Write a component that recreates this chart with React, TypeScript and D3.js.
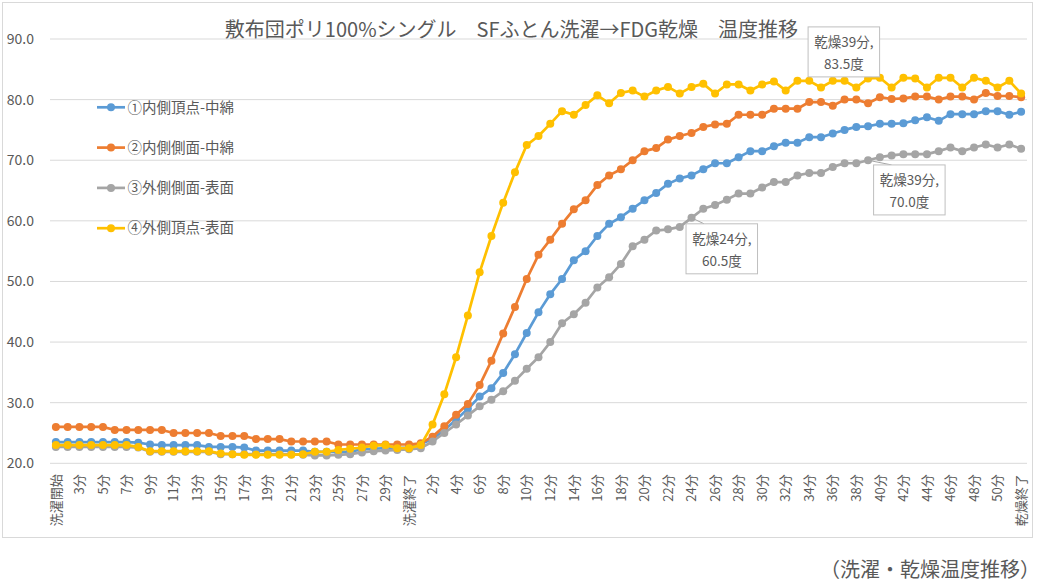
import React from "react";
import * as d3 from "d3";

// ---- categories ----
const washLabels = [
  "洗濯開始", "2分", "3分", "4分", "5分", "6分", "7分", "8分", "9分", "10分",
  "11分", "12分", "13分", "14分", "15分", "16分", "17分", "18分", "19分", "20分",
  "21分", "22分", "23分", "24分", "25分", "26分", "27分", "28分", "29分", "30分",
  "洗濯終了",
];
const dryLabels = [
  "1分", "2分", "3分", "4分", "5分", "6分", "7分", "8分", "9分", "10分",
  "11分", "12分", "13分", "14分", "15分", "16分", "17分", "18分", "19分", "20分",
  "21分", "22分", "23分", "24分", "25分", "26分", "27分", "28分", "29分", "30分",
  "31分", "32分", "33分", "34分", "35分", "36分", "37分", "38分", "39分", "40分",
  "41分", "42分", "43分", "44分", "45分", "46分", "47分", "48分", "49分", "50分",
  "51分", "乾燥終了",
];
const categories = [...washLabels, ...dryLabels];

// ---- series values ----
const innerTop = [
  23.5, 23.5, 23.5, 23.5, 23.5, 23.5, 23.5, 23.4, 23.1, 23.0,
  23.0, 23.0, 23.0, 22.7, 22.7, 22.7, 22.6, 22.1, 22.1, 22.1,
  22.1, 22.1, 21.9, 21.9, 21.9, 21.9, 22.3, 22.4, 22.5, 22.5,
  22.6,
  23.2, 24.0, 25.5, 27.2, 29.0, 31.0, 32.4, 34.9, 38.0, 41.5,
  44.9, 47.9, 50.4, 53.5, 55.0, 57.5, 59.5, 60.6, 62.0, 63.4,
  64.6, 66.1, 67.0, 67.5, 68.5, 69.5, 69.5, 70.5, 71.5, 71.5,
  72.3, 72.9, 72.9, 73.8, 73.8, 74.4, 75.0, 75.5, 75.6, 76.0,
  76.0, 76.1, 76.6, 77.1, 76.5, 77.6, 77.6, 77.6, 78.1, 78.1,
  77.5, 78.0,
];
const innerSide = [
  26.0, 26.0, 26.0, 26.0, 26.0, 25.5, 25.5, 25.5, 25.5, 25.5,
  25.0, 25.0, 25.0, 25.0, 24.5, 24.5, 24.5, 24.0, 24.0, 24.0,
  23.6, 23.6, 23.6, 23.6, 23.1, 23.1, 23.1, 23.1, 23.1, 23.1,
  23.1,
  23.3, 24.4, 26.1, 28.0, 29.8, 32.9, 36.9, 41.4, 45.8, 50.4,
  54.4, 56.9, 59.5, 61.9, 63.4, 65.9, 67.5, 68.5, 70.0, 71.5,
  72.0, 73.4, 74.0, 74.5, 75.5, 75.9, 76.0, 77.5, 77.5, 77.5,
  78.5, 78.5, 78.5, 79.6, 79.6, 79.0, 80.0, 80.0, 79.4, 80.4,
  80.1, 80.2, 80.5, 80.5, 80.0, 80.5, 80.5, 80.0, 81.1, 80.6,
  80.6, 80.4,
];
const outerSide = [
  22.7, 22.7, 22.7, 22.7, 22.7, 22.7, 22.7, 22.6, 21.9, 21.9,
  21.9, 21.9, 21.9, 21.9, 21.5, 21.5, 21.5, 21.5, 21.5, 21.5,
  21.5, 21.4, 21.3, 21.3, 21.4, 21.5, 21.8, 22.0, 22.1, 22.2,
  22.3,
  22.5, 23.6, 25.0, 26.4, 27.9, 29.4, 30.5, 31.9, 33.6, 35.6,
  37.5, 40.0, 43.1, 44.6, 46.5, 49.0, 50.7, 52.9, 55.8, 56.9,
  58.4, 58.6, 59.0, 60.5, 62.0, 62.6, 63.5, 64.5, 64.5, 65.5,
  66.4, 66.4, 67.5, 67.9, 67.9, 68.9, 69.5, 69.5, 70.0, 70.5,
  70.8, 71.0, 71.0, 71.0, 71.5, 72.1, 71.5, 72.1, 72.6, 72.1,
  72.6, 71.9,
];
const outerTop = [
  23.0, 23.0, 23.0, 23.0, 23.0, 23.0, 23.0, 22.7, 22.0, 22.0,
  22.0, 22.0, 22.0, 22.0, 21.6, 21.5, 21.4, 21.4, 21.4, 21.4,
  21.4, 21.5, 21.9, 21.9, 22.2, 22.4, 22.6, 22.9, 23.0, 22.5,
  22.5,
  23.0, 26.4, 31.4, 37.5, 44.4, 51.5, 57.5, 63.0, 68.0, 72.5,
  74.0, 76.0, 78.1, 77.5, 79.1, 80.7, 79.4, 81.1, 81.5, 80.5,
  81.5, 82.1, 81.0, 82.1, 82.6, 81.0, 82.5, 82.5, 81.5, 82.5,
  83.0, 81.5, 83.1, 83.1, 82.0, 83.1, 83.1, 82.0, 83.5, 83.6,
  82.0, 83.6, 83.5, 82.0, 83.6, 83.6, 82.0, 83.6, 83.1, 82.0,
  83.1, 81.0,
];

const seriesNames = ["①内側頂点-中綿", "②内側側面-中綿", "③外側側面-表面", "④外側頂点-表面"];
const seriesValues = [innerTop, innerSide, outerSide, outerTop];
const seriesColors = ["#5B9BD5", "#ED7D31", "#A5A5A5", "#FFC000"];

const yTicks = [20, 30, 40, 50, 60, 70, 80, 90];

const title = "敷布団ポリ100%シングル\u3000SFふとん洗濯→FDG乾燥\u3000温度推移";
const caption = "（洗濯・乾燥温度推移）";

// annotations: series index, category index, text lines
const annotations = [
  { s: 3, i: 69, lines: ["乾燥39分,", "83.5度"], dx: -60, dy: -51.5, leader: false },
  { s: 2, i: 69, lines: ["乾燥39分,", "70.0度"], dx: 5.5, dy: 4.7, leader: true },
  { s: 2, i: 54, lines: ["乾燥24分,", "60.5度"], dx: -5.5, dy: 6, leader: true },
];

const FONT = "'Noto Sans CJK JP', 'Noto Sans', sans-serif";
const TEXT = "#595959";
const GRID = "#D9D9D9";

export default function App() {
  const W = 1040;
  const H = 582;
  const left = 50;
  const right = 1027;
  const top = 39;
  const bottom = 463.3;

  const x = d3
    .scaleBand<number>()
    .domain(d3.range(categories.length))
    .range([left, right])
    .padding(0);
  const bw = x.bandwidth();
  const cx = (i: number) => (x(i) as number) + bw / 2;
  const y = d3.scaleLinear().domain([20, 90]).range([bottom, top]);

  const line = d3
    .line<number>()
    .x((_, i) => cx(i))
    .y((v) => y(v));

  const legendY = [107.3, 147.6, 187.9, 228.2];
  const boxW = 71.5;
  const boxH = 50;

  return (
    <svg
      width={W}
      height={H}
      style={{ position: "absolute", left: 0, top: 0, fontFamily: FONT }}
    >
      <rect x={0} y={0} width={W} height={H} fill="#fff" />
      <rect x={2.5} y={2.5} width={1030} height={535} fill="#fff" stroke={GRID} strokeWidth={1} />

      <text x={511.5} y={36.5} textAnchor="middle" fontSize={20} fill={TEXT}>
        {title}
      </text>

      {/* gridlines & y labels */}
      {yTicks.map((t) => (
        <g key={t}>
          <line x1={left} x2={right} y1={y(t)} y2={y(t)} stroke={GRID} strokeWidth={1} />
          <text x={34} y={y(t)} dy="0.35em" textAnchor="end" fontSize={14} fill={TEXT}>
            {t.toFixed(1)}
          </text>
        </g>
      ))}

      {/* x labels */}
      {categories.map((c, i) =>
        i % 2 === 0 ? (
          <text
            key={i}
            transform={`translate(${cx(i)},${bottom + 11}) rotate(-90)`}
            dy="0.36em"
            textAnchor="end"
            fontSize={13}
            fill={TEXT}
          >
            {c}
          </text>
        ) : null
      )}

      {/* series */}
      {seriesValues.map((vals, s) => (
        <g key={s}>
          <path
            d={line(vals) as string}
            fill="none"
            stroke={seriesColors[s]}
            strokeWidth={2.7}
            strokeLinejoin="round"
            strokeLinecap="round"
          />
          {vals.map((v, i) => (
            <circle key={i} cx={cx(i)} cy={y(v)} r={4} fill={seriesColors[s]} />
          ))}
        </g>
      ))}

      {/* legend */}
      {seriesNames.map((n, s) => (
        <g key={n}>
          <line
            x1={97}
            x2={125}
            y1={legendY[s]}
            y2={legendY[s]}
            stroke={seriesColors[s]}
            strokeWidth={2.7}
          />
          <circle cx={111} cy={legendY[s]} r={4} fill={seriesColors[s]} />
          <text x={127.5} y={legendY[s]} dy="0.36em" fontSize={14.5} fill={TEXT}>
            {n}
          </text>
        </g>
      ))}

      {/* annotations */}
      {annotations.map((a, k) => {
        const px = cx(a.i);
        const py = y(seriesValues[a.s][a.i]);
        const bx = px + a.dx;
        const by = py + a.dy;
        return (
          <g key={k}>
            {a.leader ? (
              <line
                x1={px}
                y1={py}
                x2={bx + 18}
                y2={by}
                stroke="#A6A6A6"
                strokeWidth={1}
              />
            ) : null}
            <rect
              x={bx}
              y={by}
              width={boxW}
              height={boxH}
              fill="#fff"
              stroke="#BFBFBF"
              strokeWidth={1}
            />
            <text
              x={bx + boxW / 2}
              y={by + 15.5}
              dy="0.36em"
              textAnchor="middle"
              fontSize={13.5}
              fill={TEXT}
            >
              {a.lines[0]}
            </text>
            <text
              x={bx + boxW / 2}
              y={by + 37.5}
              dy="0.36em"
              textAnchor="middle"
              fontSize={13.5}
              fill={TEXT}
            >
              {a.lines[1]}
            </text>
          </g>
        );
      })}

      <text x={1040} y={577} textAnchor="end" fontSize={20} fill={TEXT}>
        {caption}
      </text>
    </svg>
  );
}
